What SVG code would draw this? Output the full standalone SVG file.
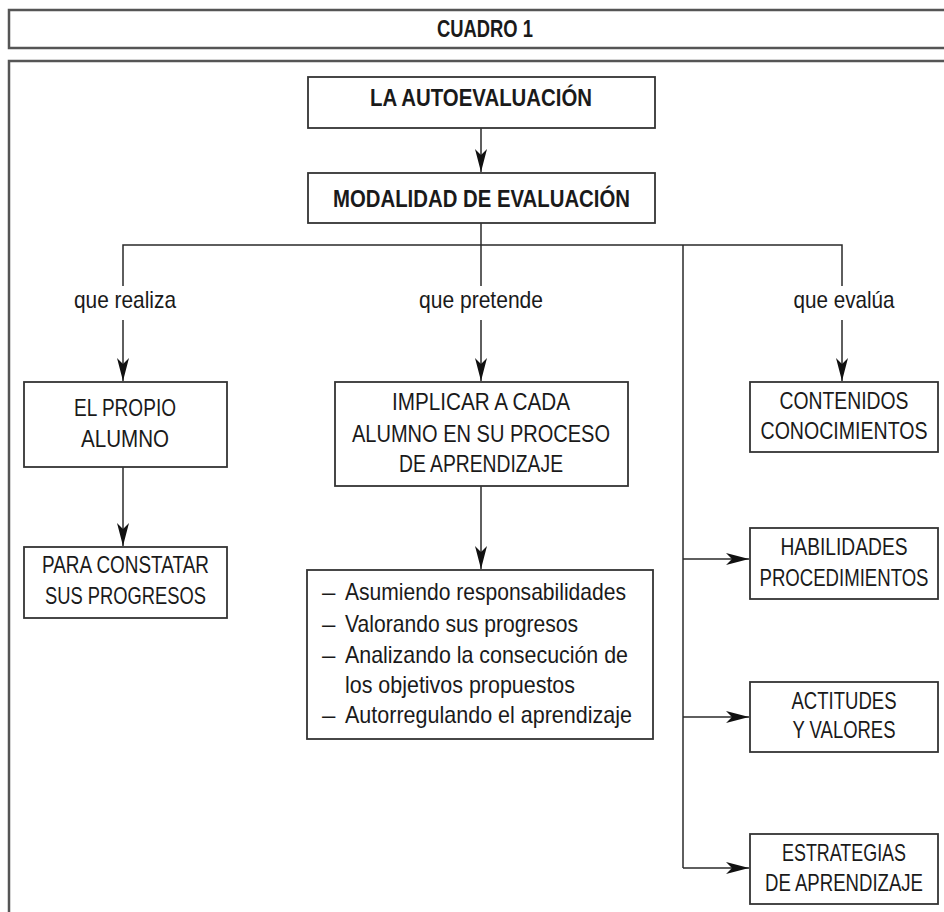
<svg xmlns="http://www.w3.org/2000/svg" width="944" height="912" viewBox="0 0 944 912">
<style>
.frame{fill:none;stroke:#555;stroke-width:2.5}
.box{fill:#fff;stroke:#333;stroke-width:1.8}
.ln{fill:none;stroke:#2a2a2a;stroke-width:1.5}
text{font-family:"Liberation Sans Narrow","Liberation Sans",Arial,sans-serif;font-size:24px;fill:#1a1a1a}
.b{font-weight:bold}
.c{text-anchor:middle}
</style>
<defs>
<marker id="ah" markerUnits="userSpaceOnUse" markerWidth="30" markerHeight="16" refX="0" refY="0" viewBox="-25 -8 27 16" orient="auto">
<path d="M0,0 L-23,-6 L-17,0 L-23,6 Z" fill="#111"/>
</marker>
</defs>
<rect width="944" height="912" fill="#fff"/>
<g id="header">
<rect class="frame" x="9" y="10" width="945" height="38"/>
<text class="b c" x="485" y="37" textLength="96" lengthAdjust="spacingAndGlyphs">CUADRO 1</text>
</g>
<rect id="frame" class="frame" x="9" y="61" width="945" height="870"/>
<g id="connectors">
<line class="ln" x1="481" y1="128" x2="481" y2="172" marker-end="url(#ah)"/>
<polyline class="ln" points="481,223 481,245"/>
<polyline class="ln" points="123,286 123,245 842,245 842,286"/>
<line class="ln" x1="481" y1="245" x2="481" y2="286"/>
<line class="ln" x1="683" y1="245" x2="683" y2="868"/>
<line class="ln" x1="123" y1="320" x2="123" y2="381" marker-end="url(#ah)"/>
<line class="ln" x1="481" y1="320" x2="481" y2="381" marker-end="url(#ah)"/>
<line class="ln" x1="842" y1="320" x2="842" y2="381" marker-end="url(#ah)"/>
<line class="ln" x1="123" y1="467" x2="123" y2="546" marker-end="url(#ah)"/>
<line class="ln" x1="481" y1="486" x2="481" y2="569" marker-end="url(#ah)"/>
<line class="ln" x1="683" y1="559" x2="749" y2="559" marker-end="url(#ah)"/>
<line class="ln" x1="683" y1="717" x2="749" y2="717" marker-end="url(#ah)"/>
<line class="ln" x1="683" y1="868" x2="749" y2="868" marker-end="url(#ah)"/>
</g>
<g id="labels">
<text class="c" x="125" y="308" textLength="102" lengthAdjust="spacingAndGlyphs">que realiza</text>
<text class="c" x="481" y="308" textLength="124" lengthAdjust="spacingAndGlyphs">que pretende</text>
<text class="c" x="844" y="308" textLength="101" lengthAdjust="spacingAndGlyphs">que evalúa</text>
</g>
<g id="n-autoevaluacion">
<rect class="box" x="308" y="77" width="347" height="51"/>
<text class="b c" x="481" y="106" textLength="222" lengthAdjust="spacingAndGlyphs">LA AUTOEVALUACIÓN</text>
</g>
<g id="n-modalidad">
<rect class="box" x="308" y="173" width="347" height="50"/>
<text class="b c" x="481.5" y="207" textLength="297" lengthAdjust="spacingAndGlyphs">MODALIDAD DE EVALUACIÓN</text>
</g>
<g id="n-propio">
<rect class="box" x="24" y="382" width="203" height="85"/>
<text class="c" x="125" y="416" textLength="102" lengthAdjust="spacingAndGlyphs">EL PROPIO</text>
<text class="c" x="125" y="447" textLength="88" lengthAdjust="spacingAndGlyphs">ALUMNO</text>
</g>
<g id="n-constatar">
<rect class="box" x="24" y="547" width="203" height="71"/>
<text class="c" x="125.5" y="573" textLength="167" lengthAdjust="spacingAndGlyphs">PARA CONSTATAR</text>
<text class="c" x="125.5" y="604" textLength="161" lengthAdjust="spacingAndGlyphs">SUS PROGRESOS</text>
</g>
<g id="n-implicar">
<rect class="box" x="335" y="382" width="293" height="104"/>
<text class="c" x="481" y="410" textLength="178" lengthAdjust="spacingAndGlyphs">IMPLICAR A CADA</text>
<text class="c" x="481" y="442" textLength="258" lengthAdjust="spacingAndGlyphs">ALUMNO EN SU PROCESO</text>
<text class="c" x="481" y="472" textLength="164" lengthAdjust="spacingAndGlyphs">DE APRENDIZAJE</text>
</g>
<g id="n-lista">
<rect class="box" x="307" y="570" width="346" height="169"/>
<text x="322" y="600">–</text>
<text x="345" y="600" textLength="281" lengthAdjust="spacingAndGlyphs">Asumiendo responsabilidades</text>
<text x="322" y="632">–</text>
<text x="345" y="632" textLength="233" lengthAdjust="spacingAndGlyphs">Valorando sus progresos</text>
<text x="322" y="663">–</text>
<text x="345" y="663" textLength="283" lengthAdjust="spacingAndGlyphs">Analizando la consecución de</text>
<text x="345" y="693" textLength="230" lengthAdjust="spacingAndGlyphs">los objetivos propuestos</text>
<text x="322" y="723">–</text>
<text x="345" y="723" textLength="287" lengthAdjust="spacingAndGlyphs">Autorregulando el aprendizaje</text>
</g>
<g id="n-contenidos">
<rect class="box" x="750" y="382" width="188" height="70"/>
<text class="c" x="844" y="409" textLength="129" lengthAdjust="spacingAndGlyphs">CONTENIDOS</text>
<text class="c" x="844" y="439" textLength="167" lengthAdjust="spacingAndGlyphs">CONOCIMIENTOS</text>
</g>
<g id="n-habilidades">
<rect class="box" x="750" y="528" width="188" height="71"/>
<text class="c" x="844" y="555" textLength="127" lengthAdjust="spacingAndGlyphs">HABILIDADES</text>
<text class="c" x="844" y="586" textLength="169" lengthAdjust="spacingAndGlyphs">PROCEDIMIENTOS</text>
</g>
<g id="n-actitudes">
<rect class="box" x="750" y="682" width="188" height="70"/>
<text class="c" x="844" y="709" textLength="105" lengthAdjust="spacingAndGlyphs">ACTITUDES</text>
<text class="c" x="844" y="738" textLength="103" lengthAdjust="spacingAndGlyphs">Y VALORES</text>
</g>
<g id="n-estrategias">
<rect class="box" x="750" y="834" width="188" height="70"/>
<text class="c" x="844" y="861" textLength="124" lengthAdjust="spacingAndGlyphs">ESTRATEGIAS</text>
<text class="c" x="844" y="891" textLength="158" lengthAdjust="spacingAndGlyphs">DE APRENDIZAJE</text>
</g>
</svg>
